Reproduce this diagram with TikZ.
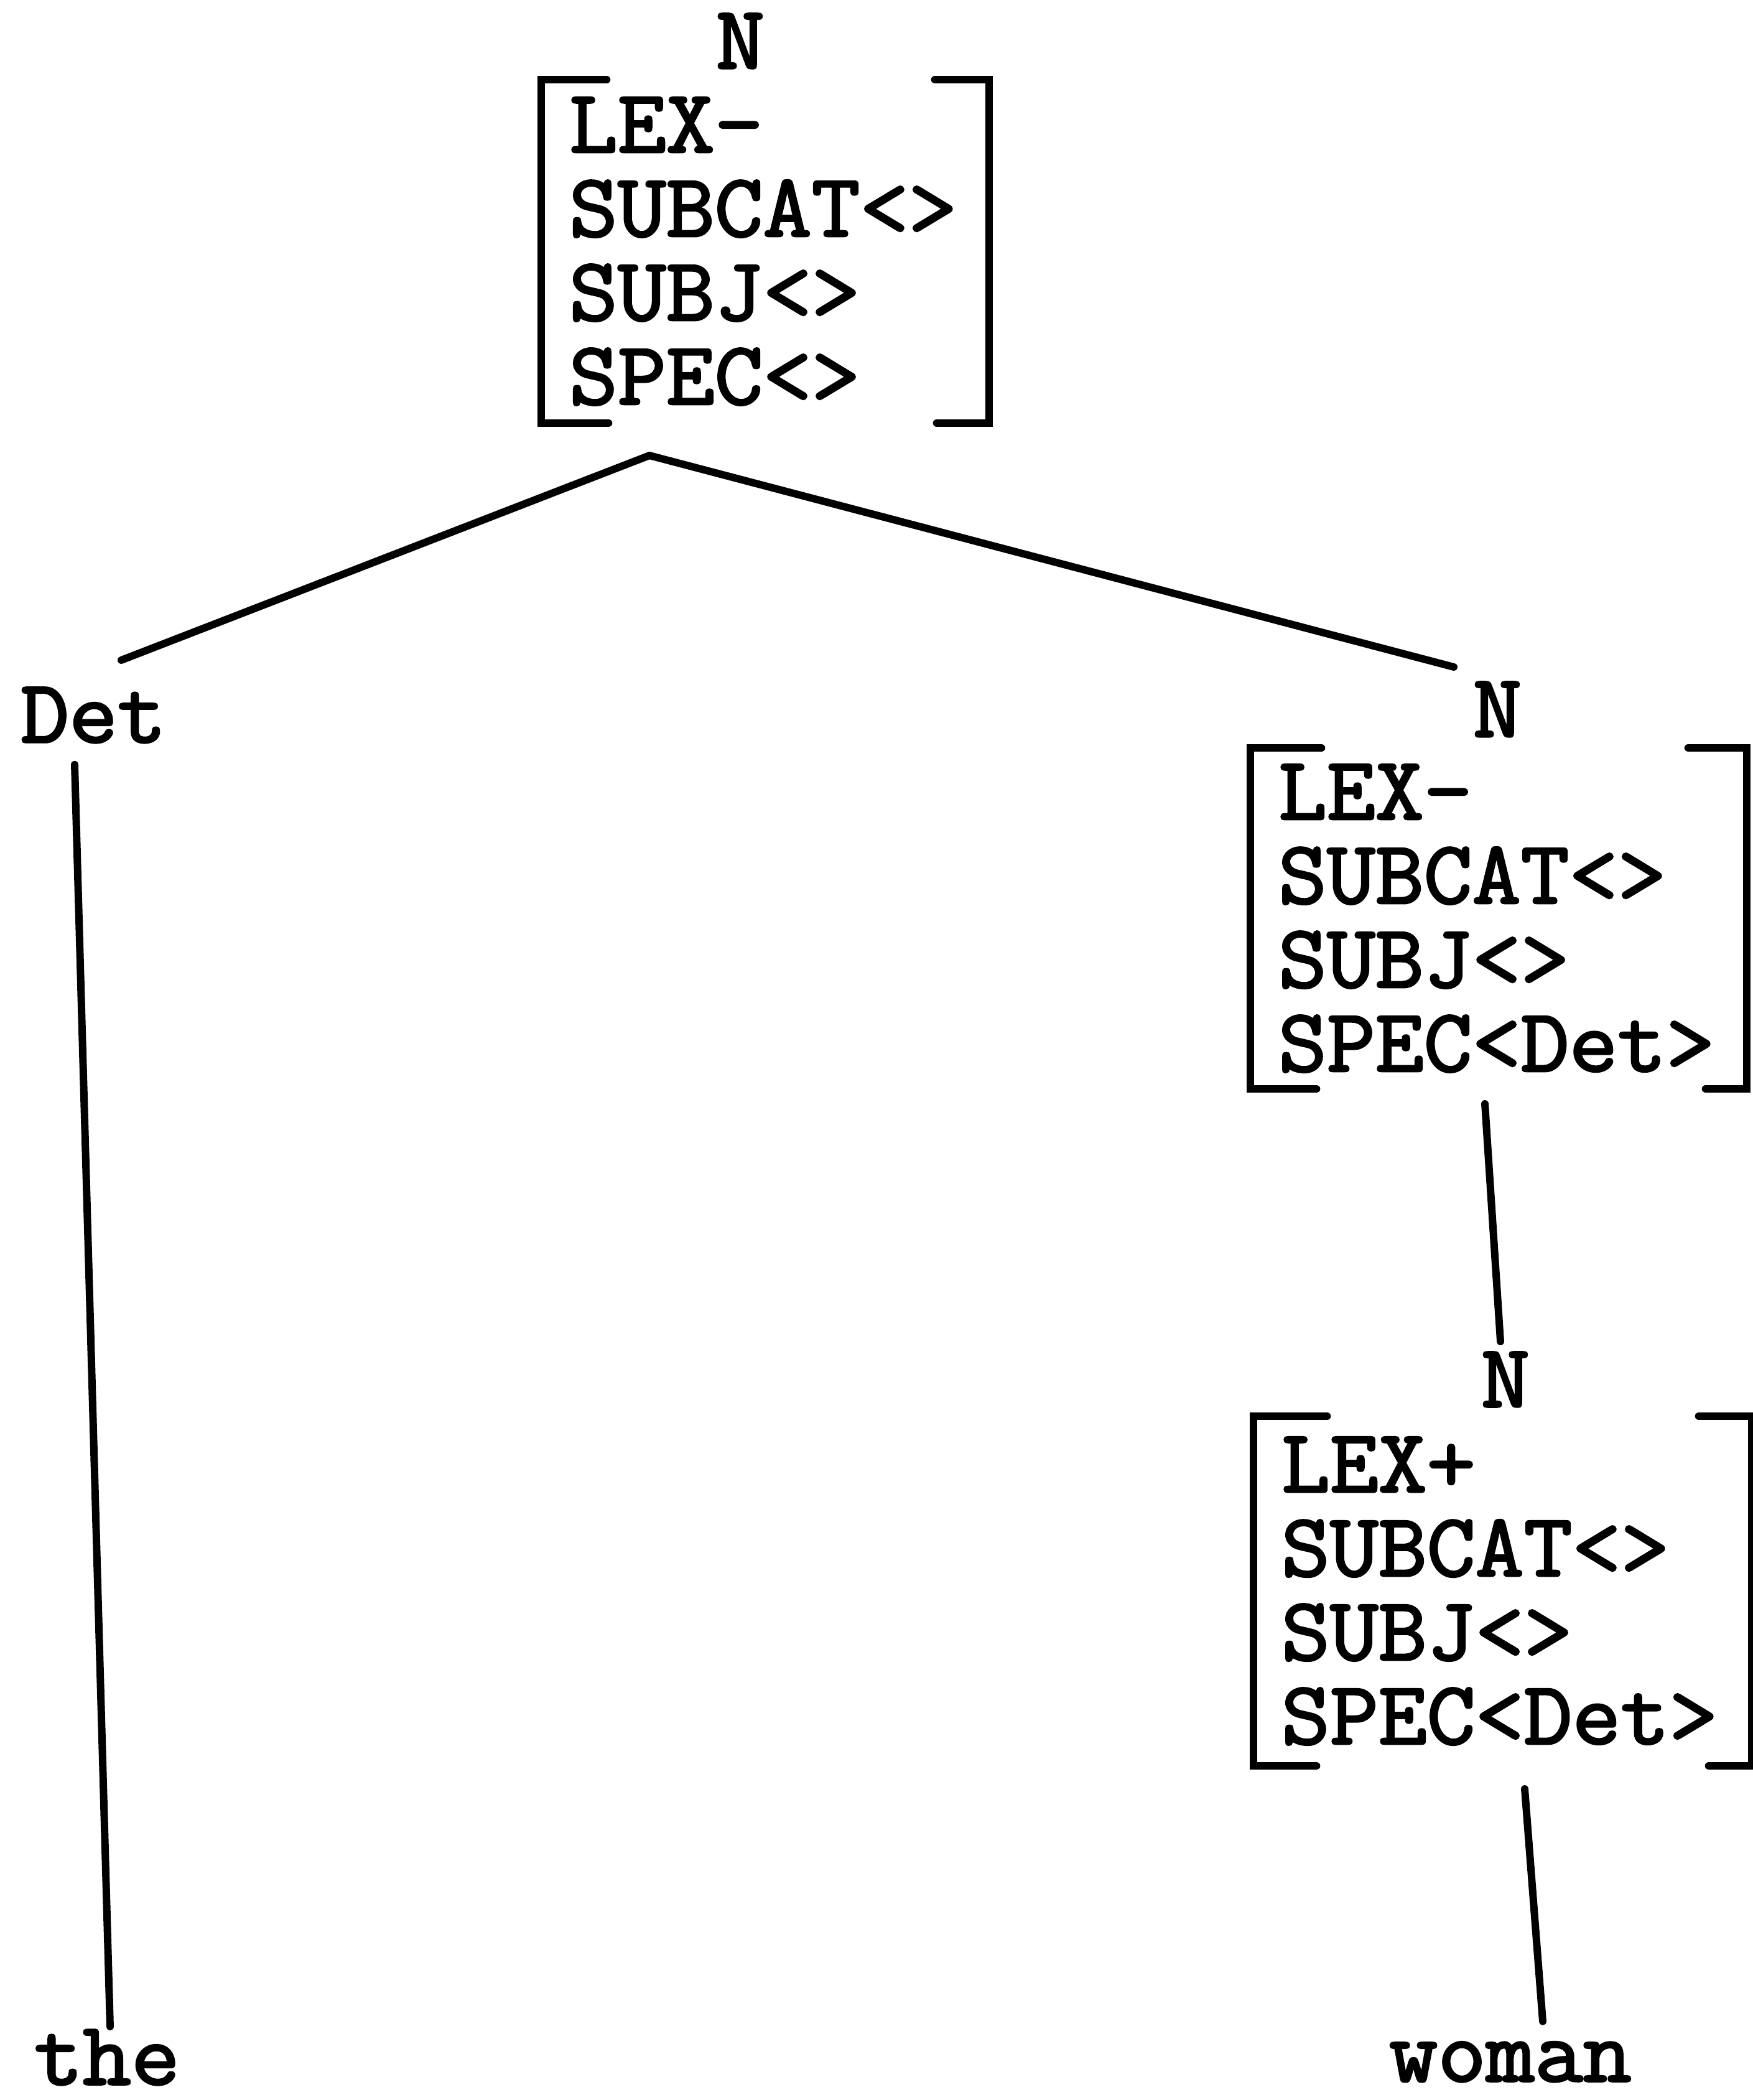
\documentclass[tikz,border=0pt]{standalone}
\usepackage{fontspec}
\newfontfamily\typewriter[FakeBold=2.4, FakeStretch=1.05]{Latin Modern Mono}
\usetikzlibrary{calc}

\begin{document}
\begin{tikzpicture}[
    cat/.style={font=\typewriter\fontsize{41}{38.4}\selectfont, inner sep=0pt, outer sep=0pt, anchor=base},
    fs/.style={font=\typewriter\fontsize{41}{38.4}\selectfont, align=left, anchor=north west, inner xsep=0.45cm, inner ysep=0pt, outer sep=0pt},
    brk/.style={line width=3.6pt, line cap=round},
    edge/.style={line width=3.4pt, line cap=round}
]
\path[use as bounding box, fill=white] (0,0) rectangle (28.18,-33.75);

\node[cat] (n1) at (11.90,-1.10) {N};
\node[fs, text width=6.30cm, minimum height=5.52cm] (fs1) at (8.70,-1.28) {LEX-\\SUBCAT<>\\SUBJ<>\\SPEC<>};
\coordinate (j1) at (10.44,-7.32);

\node[cat] (det) at (1.50,-11.93) {Det};
\node[cat] (the) at (1.72,-33.50) {the};

\node[cat] (n2) at (24.07,-11.84) {N};
\node[fs, text width=7.08cm, minimum height=5.48cm] (fs2) at (20.10,-12.02) {LEX-\\SUBCAT<>\\SUBJ<>\\SPEC<Det>};

\node[cat] (n3) at (24.20,-22.61) {N};
\node[fs, text width=7.11cm, minimum height=5.62cm] (fs3) at (20.15,-22.76) {LEX+\\SUBCAT<>\\SUBJ<>\\SPEC<Det>};

\node[cat] (woman) at (24.28,-33.45) {woman};

\draw[brk] ($(fs1.north west)+(1.05,0)$) -- (fs1.north west) -- (fs1.south west) -- ($(fs1.south west)+(1.08,0)$);
\draw[brk] ($(fs1.north east)+(-0.87,0)$) -- (fs1.north east) -- (fs1.south east) -- ($(fs1.south east)+(-0.84,0)$);
\draw[brk] ($(fs2.north west)+(1.14,0)$) -- (fs2.north west) -- (fs2.south west) -- ($(fs2.south west)+(1.06,0)$);
\draw[brk] ($(fs2.north east)+(-0.94,0)$) -- (fs2.north east) -- (fs2.south east) -- ($(fs2.south east)+(-0.66,0)$);
\draw[brk] ($(fs3.north west)+(1.18,0)$) -- (fs3.north west) -- (fs3.south west) -- ($(fs3.south west)+(1.01,0)$);
\draw[brk] ($(fs3.north east)+(-0.85,0)$) -- (fs3.north east) -- (fs3.south east) -- ($(fs3.south east)+(-0.69,0)$);

\draw[edge] (j1) -- ($(det.north)+(0.45,0.44)$);
\draw[edge] (j1) -- ($(n2.north)+(-0.70,0.24)$);
\draw[edge] ($(det.south)+(-0.30,-0.35)$) -- ($(the.north)+(0.05,0.05)$);
\draw[edge] ($(fs2.south)+(-0.22,-0.24)$) -- ($(n3.north)+(-0.08,0.17)$);
\draw[edge] ($(fs3.south)+(0.355,-0.37)$) -- ($(woman.north)+(0.52,0.33)$);
\end{tikzpicture}
\end{document}
